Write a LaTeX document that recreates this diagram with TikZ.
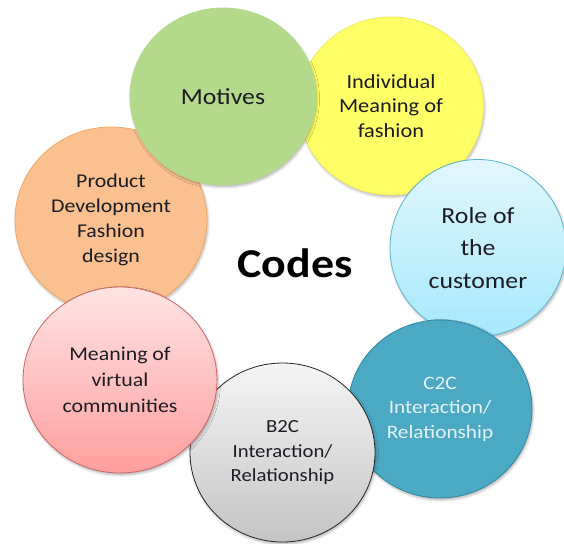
\documentclass[tikz,border=0pt]{standalone}
\usepackage{fontspec}
\setmainfont{Carlito}[FakeStretch=1.12]
\usetikzlibrary{shapes.geometric,shadows.blur}

\definecolor{textdark}{HTML}{1C1C24}
\definecolor{greenfill}{HTML}{B3D98A}
\definecolor{yellowfill}{HTML}{FFFF66}
\definecolor{yellowline}{HTML}{F0EC5C}
\definecolor{orangefill}{HTML}{FAC08F}
\definecolor{orangeline}{HTML}{F2A865}
\definecolor{bluetop}{HTML}{E2F7FE}
\definecolor{bluebottom}{HTML}{A6E8FB}
\definecolor{blueline}{HTML}{5DB6CE}
\definecolor{tealfill}{HTML}{4BA9C4}
\definecolor{tealline}{HTML}{34879E}
\definecolor{tealtext}{HTML}{E4F3F8}
\definecolor{greytop}{HTML}{F5F5F5}
\definecolor{greybottom}{HTML}{C4C4C4}
\definecolor{greyline}{HTML}{262626}
\definecolor{pinktop}{HTML}{FFE4E4}
\definecolor{pinkbottom}{HTML}{FF9E9E}
\definecolor{pinkline}{HTML}{CF6464}

\tikzset{
  bubble/.style={ellipse, inner sep=0pt, align=center, text=textdark,
    line width=0.8pt,
    blur shadow={shadow xshift=1pt, shadow yshift=-2pt,
                 shadow blur radius=2.5pt, shadow opacity=30}},
  txtA/.style={font=\fontsize{23}{32.5}\selectfont},
  txtB/.style={font=\fontsize{19.5}{25}\selectfont},
}

\begin{document}
\begin{tikzpicture}[x=1pt, y=-1pt]
  \useasboundingbox (0,0) rectangle (564,543);

  % outer ring of bubbles, back to front
  \node[bubble, txtB, minimum width=192pt, minimum height=186pt,
        fill=orangefill, draw=orangeline] (product) at (111,220)
        {Product\\Development\\Fashion\\design};
  \node[bubble, txtB, font=\fontsize{20}{24.5}\selectfont,
        minimum width=185pt, minimum height=178pt,
        fill=yellowfill, draw=yellowline] (individual) at (391,106)
        {Individual\\Meaning of\\fashion};
  \node[bubble, txtA, minimum width=176pt, minimum height=177pt,
        top color=bluetop, bottom color=bluebottom, draw=blueline] (role) at (478,248)
        {Role of\\the\\customer};
  \node[bubble, txtB, font=\fontsize{19}{24.5}\selectfont, text=tealtext,
        minimum width=184pt, minimum height=178pt,
        fill=tealfill, draw=tealline] (ctoc) at (440,409)
        {C2C\\Interaction/\\Relationship};
  \node[bubble, txtB, font=\fontsize{18.5}{24.5}\selectfont,
        minimum width=185pt, minimum height=179pt,
        top color=greytop, bottom color=greybottom, draw=greyline] (btoc) at (282.5,452.5)
        {B2C\\Interaction/\\Relationship};
  \node[bubble, txtB, font=\fontsize{19.5}{26}\selectfont,
        minimum width=194pt, minimum height=186pt,
        top color=pinktop, bottom color=pinkbottom, draw=pinkline] (virtual) at (120,380)
        {Meaning of\\virtual\\communities};
  \node[bubble, txtA, minimum width=186pt, minimum height=177pt,
        fill=greenfill, draw=greenfill] (motives) at (223,96.5)
        {Motives};

  % central title
  \node[font=\fontsize{41}{49}\selectfont\bfseries, text=black] (codes) at (295,263) {Codes};
\end{tikzpicture}
\end{document}
